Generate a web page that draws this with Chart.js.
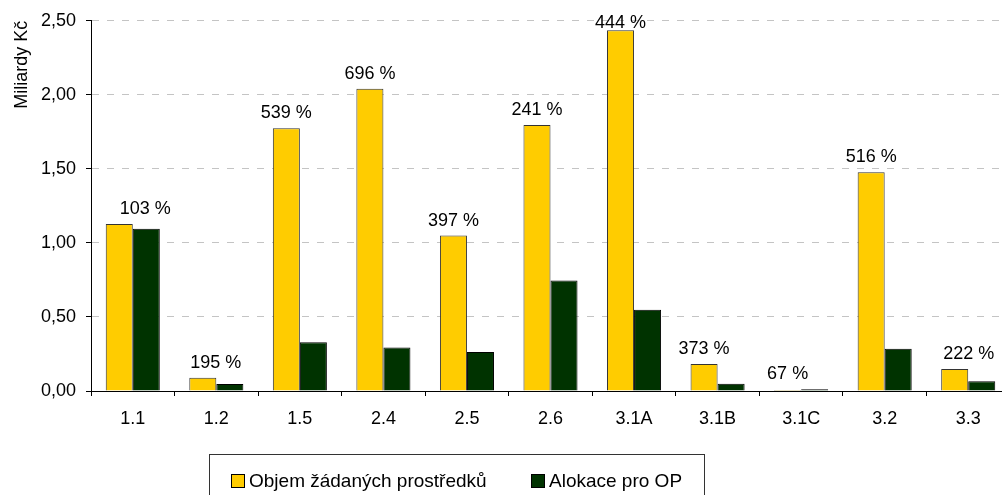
<!DOCTYPE html>
<html>
<head>
<meta charset="utf-8">
<script src="https://cdn.jsdelivr.net/npm/chart.js@4/dist/chart.umd.min.js"></script>
<style>
html,body{margin:0;padding:0;background:#fff;overflow:hidden;width:1002px;height:495px;}
canvas{display:block;}
</style>
</head>
<body>
<canvas id="c" width="1010" height="495"></canvas>
<script>
// ---- data ----
const categories = ['1.1', '1.2', '1.5', '2.4', '2.5', '2.6', '3.1A', '3.1B', '3.1C', '3.2', '3.3'];
const requested = [1.127, 0.089, 1.774, 2.041, 1.050, 1.796, 2.437, 0.183, 0.0075, 1.478, 0.148];
const allocation = [1.095, 0.047, 0.329, 0.293, 0.263, 0.746, 0.549, 0.049, 0.011, 0.286, 0.066];
const percentLabels = ['103 %', '195 %', '539 %', '696 %', '397 %', '241 %', '444 %', '373 %', '67 %', '516 %', '222 %'];
const seriesNames = ['Objem žádaných prostředků', 'Alokace pro OP'];
const yTickValues = [0, 0.5, 1, 1.5, 2, 2.5];
const yTitle = 'Miliardy Kč';

// ---- layout / style ----
const FONT = '"Liberation Sans", Arial, sans-serif';
const labelNudge = [26, 13, 0, 0, 0, 0, 0, 0, 0, 0, 14];
const colors = ['#FFCC00', '#003300'];
const borders = ['#333333', '#000000'];

const valueLabels = {
  id: 'valueLabels',
  afterDatasetsDraw(chart) {
    const ctx = chart.ctx;
    const m0 = chart.getDatasetMeta(0), m1 = chart.getDatasetMeta(1);
    ctx.save();
    ctx.font = '18px ' + FONT;
    ctx.fillStyle = '#000';
    ctx.textAlign = 'center';
    ctx.textBaseline = 'alphabetic';
    percentLabels.forEach((t, i) => {
      const b0 = m0.data[i], b1 = m1.data[i];
      const top = Math.min(b0.y, b1.y);
      let y = Math.max(top - 10, chart.chartArea.top + 7);
      ctx.fillText(t, b0.x + labelNudge[i], y);
    });
    ctx.restore();
  }
};

const boxLegend = {
  id: 'boxLegend',
  afterDraw(chart) {
    const ctx = chart.ctx;
    ctx.save();
    ctx.strokeStyle = '#333';
    ctx.lineWidth = 1;
    ctx.strokeRect(209.5, 454.5, 495, 60);
    ctx.font = '19px ' + FONT;
    ctx.textBaseline = 'alphabetic';
    ctx.textAlign = 'left';
    const xs = [231, 531];
    chart.data.datasets.forEach((ds, i) => {
      ctx.fillStyle = ds.backgroundColor;
      ctx.fillRect(xs[i], 474, 14, 14);
      ctx.strokeStyle = '#000';
      ctx.strokeRect(xs[i] + 0.5, 474.5, 13, 13);
      ctx.fillStyle = '#000';
      ctx.fillText(ds.label, xs[i] + 18, 487);
    });
    ctx.restore();
  }
};

new Chart(document.getElementById('c'), {
  type: 'bar',
  data: {
    labels: categories,
    datasets: [
      { label: seriesNames[0], data: requested, backgroundColor: colors[0], borderColor: borders[0], borderWidth: 1 },
      { label: seriesNames[1], data: allocation, backgroundColor: colors[1], borderColor: borders[1], borderWidth: 1 }
    ]
  },
  options: {
    responsive: false,
    animation: false,
    devicePixelRatio: 1,
    layout: { padding: { top: 19, left: 0, right: 0, bottom: 0 } },
    datasets: { bar: { categoryPercentage: 0.647, barPercentage: 1.0 } },
    plugins: { legend: { display: false }, tooltip: { enabled: false } },
    scales: {
      x: {
        offset: true,
        grid: { offset: true, drawOnChartArea: false, drawTicks: true, tickLength: 5, color: '#000', tickColor: '#000' },
        border: { display: true, color: '#000', width: 1 },
        ticks: { color: '#000', font: { family: FONT, size: 18 }, padding: 12, maxRotation: 0, autoSkip: false },
        afterFit(s) { s.height = 104; }
      },
      y: {
        min: 0, max: 2.5,
        afterBuildTicks(s) { s.ticks = yTickValues.map(v => ({ value: v })); },
        grid: { color: '#c4c4c4', lineWidth: 1, drawTicks: true, tickLength: 5, tickColor: '#000', tickBorderDash: [] },
        border: { display: true, color: '#000', width: 1, dash: [7, 8] },
        ticks: {
          color: '#000', font: { family: FONT, size: 18 }, padding: 10,
          callback: v => v.toFixed(2).replace('.', ',')
        },
        title: { display: true, text: yTitle, align: 'end', color: '#000', font: { family: FONT, size: 18 }, padding: { top: 11, bottom: 0 } },
        afterFit(s) { s.width = 91; }
      }
    }
  },
  plugins: [valueLabels, boxLegend]
});
</script>
</body>
</html>
